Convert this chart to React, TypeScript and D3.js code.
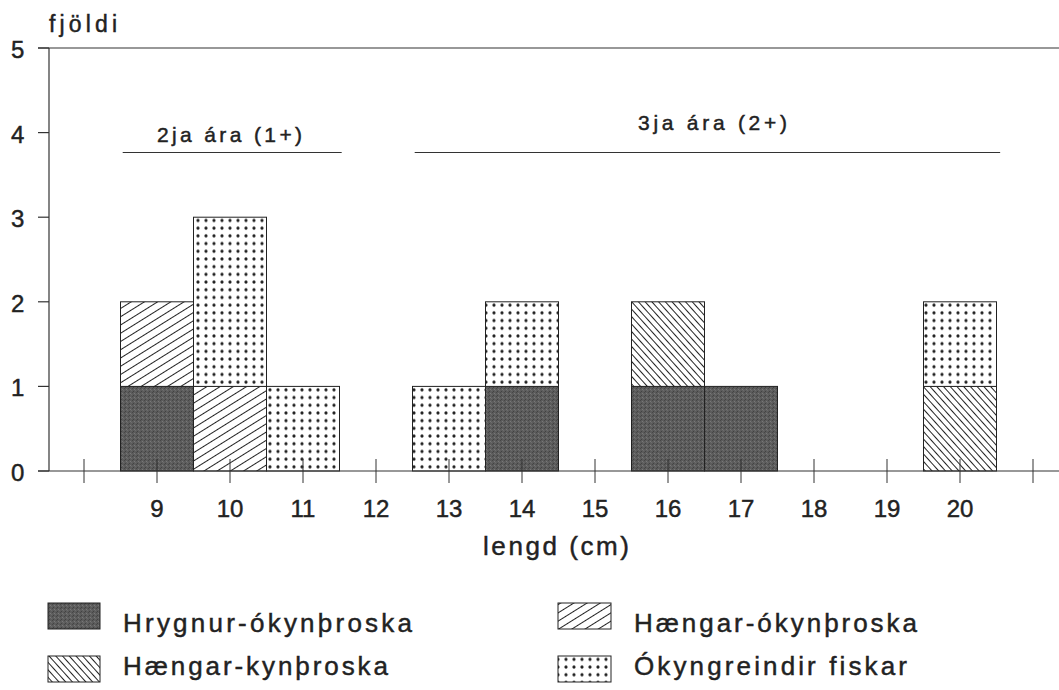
import React from 'react';
import * as d3 from 'd3';

// lengd (cm) and fjöldi in each group
const lengths = [9, 10, 11, 13, 14, 16, 17, 20];
const hrygnurOkyn = [1, 0, 0, 0, 1, 1, 1, 0];
const haengarOkyn = [1, 1, 0, 0, 0, 0, 0, 0];
const haengarKyn = [0, 0, 0, 0, 0, 1, 0, 1];
const okyngreindir = [0, 2, 1, 1, 1, 0, 0, 1];

const seriesKeys = ['hrygnur', 'haengarOkyn', 'haengarKyn', 'okyngreindir'];
const seriesNames = ['Hrygnur-ókynþroska', 'Hængar-ókynþroska', 'Hængar-kynþroska', 'Ókyngreindir fiskar'];
const seriesFill = ['url(#dark)', 'url(#hatchUp)', 'url(#hatchDown)', 'url(#dots)'];

const xTicks = d3.range(8, 22);
const xLabels = d3.range(9, 21);
const yTicks = [0, 1, 2, 3, 4, 5];

const ageGroups = [
  { label: '2ja ára (1+)', from: 8.53, to: 11.53, textX: 157, textW: 145, textY: 142 },
  { label: '3ja ára (2+)', from: 12.53, to: 20.55, textX: 638, textW: 149, textY: 130 },
];

const W = 1059;
const H = 690;
const FONT = '"Liberation Sans", Arial, sans-serif';
const INK = '#222';

export default function App() {
  const x = d3.scaleLinear().domain([8, 21]).range([84, 1033]);
  const y = d3.scaleLinear().domain([0, 5]).range([471, 48]);
  const axisLeft = 49;
  const step = x(1) - x(0);

  const table = lengths.map((l, i) => ({
    length: l,
    hrygnur: hrygnurOkyn[i],
    haengarOkyn: haengarOkyn[i],
    haengarKyn: haengarKyn[i],
    okyngreindir: okyngreindir[i],
  }));
  const stacked = d3.stack<any>().keys(seriesKeys)(table);

  const legendPos = [
    { x: 48, y: 603 },
    { x: 558, y: 603 },
    { x: 48, y: 656 },
    { x: 558, y: 656 },
  ];
  const legendW = [52, 53, 52, 53];
  const legendTextW = [289, 283, 265, 273];

  // slight stroke so the text looks like the printed original
  const txt = { fontFamily: FONT, fill: INK, stroke: INK, strokeWidth: 0.45 };

  return (
    <svg width={W} height={H} style={{ position: 'absolute', left: 0, top: 0, background: '#fff' }}>
      <defs>
        <pattern id="dark" patternUnits="userSpaceOnUse" width="4" height="4">
          <rect width="4" height="4" fill="#5c5c5c" />
          <rect x="0" y="0" width="1" height="1" fill="#474747" />
          <rect x="2" y="1" width="1" height="1" fill="#787878" />
          <rect x="1" y="3" width="1" height="1" fill="#424242" />
          <rect x="3" y="2" width="1" height="1" fill="#6c6c6c" />
        </pattern>
        <pattern id="hatchUp" patternUnits="userSpaceOnUse" width="10" height="7" patternTransform="rotate(-32)">
          <rect width="10" height="7" fill="#fff" />
          <line x1="0" y1="3.5" x2="10" y2="3.5" stroke={INK} strokeWidth="1" />
        </pattern>
        <pattern id="hatchDown" patternUnits="userSpaceOnUse" width="10" height="5" patternTransform="rotate(48)">
          <rect width="10" height="5" fill="#fff" />
          <line x1="0" y1="2.5" x2="10" y2="2.5" stroke={INK} strokeWidth="1" />
        </pattern>
        <pattern id="dots" patternUnits="userSpaceOnUse" width="8" height="7.7" x="2" y="1">
          <rect width="8" height="7.7" fill="#fff" />
          <circle cx="4" cy="3.85" r="1.6" fill={INK} />
        </pattern>
      </defs>

      {/* y axis */}
      <line x1={axisLeft} x2={axisLeft} y1={y(5)} y2={y(0)} stroke="#333" strokeWidth={1.2} />
      {yTicks.map(t => (
        <g key={'y' + t}>
          <line x1={38} x2={axisLeft} y1={y(t)} y2={y(t)} stroke="#333" strokeWidth={1.2} />
          <text x={11} y={y(t) + 10} fontSize={24} {...txt}>{t}</text>
        </g>
      ))}
      {/* top line at 5 */}
      <line x1={38} x2={W} y1={y(5)} y2={y(5)} stroke="#333" strokeWidth={1.2} />
      <text x={49} y={32} fontSize={23} {...txt} textLength={68} lengthAdjust="spacing">fjöldi</text>

      {/* bars */}
      {stacked.map((s, si) => (
        <g key={s.key}>
          {s.map((d, i) => d[1] - d[0] > 0 ? (
            <rect key={i}
              x={x(lengths[i] - 0.5)}
              width={step}
              y={y(d[1])}
              height={y(d[0]) - y(d[1])}
              fill={seriesFill[si]}
              stroke={INK}
              strokeWidth={1} />
          ) : null)}
        </g>
      ))}

      {/* x axis */}
      <line x1={38} x2={W} y1={y(0)} y2={y(0)} stroke="#333" strokeWidth={1.2} />
      {xTicks.map(t => (
        <line key={'xt' + t} x1={x(t)} x2={x(t)} y1={y(0) - 12} y2={y(0) + 12} stroke="#333" strokeWidth={1} />
      ))}
      {xLabels.map(t => (
        <text key={'xl' + t} x={x(t)} y={517} textAnchor="middle" fontSize={24} {...txt}>{t}</text>
      ))}
      <text x={483} y={555} fontSize={26} {...txt} textLength={146} lengthAdjust="spacing">lengd (cm)</text>

      {/* age groups */}
      {ageGroups.map(g => (
        <g key={g.label}>
          <line x1={x(g.from)} x2={x(g.to)} y1={152.5} y2={152.5} stroke="#333" strokeWidth={1.2} />
          <text x={g.textX} y={g.textY} fontSize={21} {...txt} textLength={g.textW} lengthAdjust="spacing">{g.label}</text>
        </g>
      ))}

      {/* legend */}
      {seriesNames.map((n, i) => (
        <g key={n}>
          <rect x={legendPos[i].x} y={legendPos[i].y} width={legendW[i]} height={26}
            fill={seriesFill[i]} stroke={INK} strokeWidth={1} />
          <text x={legendPos[i].x + 75 + (i % 2)} y={legendPos[i].y + 29 - (i >= 2 ? 10 : 0)}
            fontSize={26} {...txt} textLength={legendTextW[i]} lengthAdjust="spacing">{n}</text>
        </g>
      ))}
    </svg>
  );
}
